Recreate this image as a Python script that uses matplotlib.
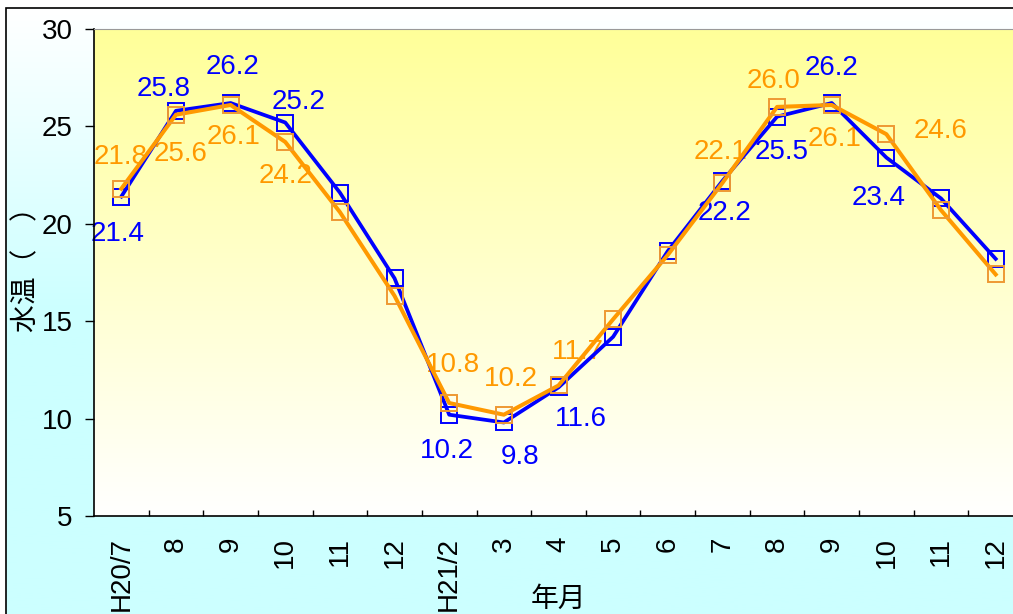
import numpy as np
import matplotlib.pyplot as plt
from matplotlib.colors import LinearSegmentedColormap
from matplotlib.patches import Rectangle

plt.rcParams['font.family'] = ['Liberation Sans', 'Noto Sans CJK JP']

months = ['H20/7', '8', '9', '10', '11', '12', 'H21/2', '3', '4', '5', '6',
          '7', '8', '9', '10', '11', '12']
blue_vals = [21.4, 25.8, 26.2, 25.2, 21.6, 17.2, 10.2, 9.8, 11.6, 14.2, 18.6,
             22.2, 25.5, 26.2, 23.4, 21.3, 18.2]
orange_vals = [21.8, 25.6, 26.1, 24.2, 20.6, 16.3, 10.8, 10.2, 11.7, 15.1, 18.4,
               22.1, 26.0, 26.1, 24.6, 20.7, 17.4]

# value labels: point index -> offset of the label (pixels)
blue_label_pos = {0: (-4, -37), 1: (-12, 22), 2: (2, 36), 3: (13, 21),
                  6: (-2, -36), 7: (16, -35), 8: (22, -32),
                  11: (2, -32), 12: (5, -35), 13: (0, 35), 14: (-8, -40)}
orange_label_pos = {0: (-1, 32), 1: (5, -39), 2: (3, -32), 3: (0, -34),
                    6: (4, 38), 7: (7, 36), 8: (19, 33),
                    11: (-2, 31), 12: (-4, 26), 13: (3, -34), 14: (54, 3)}

BLUE = '#0000FF'
ORANGE = '#FF9900'
FS = 20

W, H = 1013, 614
fig = plt.figure(figsize=(W / 100, H / 100), dpi=100)

# background of the chart box: white fading into pale cyan
bg = fig.add_axes([0, 0, 1, 1], zorder=-10)
bg.set_xlim(0, 1)
bg.set_ylim(0, 1)
bg.axis('off')
cyan = LinearSegmentedColormap.from_list('cy', ['#CCFFFF', '#CCFFFF', '#FFFFFF'])
grad = np.linspace(0, 1, 256).reshape(-1, 1)
bg.imshow(grad, cmap=cyan, origin='lower', aspect='auto',
          extent=(6 / W, 1, 0, 1 - 8 / H))
bg.add_patch(Rectangle((6 / W, -0.1), 1, 1.1 - 8 / H, fill=False,
                       edgecolor='black', linewidth=1.2))

ax = fig.add_axes([94 / W, 98 / H, 929 / W, 487 / H])
ax.set_xlim(-0.5, len(months) - 0.5)
ax.set_ylim(5, 30)
ax.patch.set_alpha(0)

yellow = LinearSegmentedColormap.from_list('ye', ['#FFFFFF', '#FFFF99'])
ax.imshow(grad, cmap=yellow, origin='lower', aspect='auto',
          extent=(-0.5, len(months) - 0.5, 5, 30), zorder=0)

x = np.arange(len(months))
ax.plot(x, blue_vals, color=BLUE, linewidth=2.7, marker='s', markersize=11.5,
        markerfacecolor='none', markeredgecolor=BLUE, markeredgewidth=1.4,
        zorder=3)
ax.plot(x, orange_vals, color=ORANGE, linewidth=2.9, marker='s', markersize=11.5,
        markerfacecolor='none', markeredgecolor='#EE9933', markeredgewidth=1.4,
        zorder=4)

for vals, pos, col in [(blue_vals, blue_label_pos, BLUE),
                       (orange_vals, orange_label_pos, ORANGE)]:
    for i, (dx, dy) in pos.items():
        ax.annotate(f'{vals[i]:.1f}', (x[i], vals[i]), xytext=(dx, dy),
                    textcoords='offset pixels', ha='center', va='center',
                    fontsize=FS, color=col, zorder=2)

ax.set_yticks(range(5, 31, 5))
ax.tick_params(axis='y', direction='out', length=6.5, width=1, pad=9,
               labelsize=FS)
ax.set_xticks(x)
ax.set_xticklabels(months, rotation=90, va='top')
ax.set_xticks(x[:-1] + 0.5, minor=True)
ax.tick_params(axis='x', which='major', length=0, pad=15, labelsize=FS)
ax.tick_params(axis='x', which='minor', direction='in', length=4.5, width=1)

ax.spines['top'].set_color('#999999')
ax.spines['right'].set_visible(False)
ax.spines['left'].set_linewidth(1.2)
ax.spines['bottom'].set_linewidth(1.2)

ax.set_ylabel('水温（　）', fontsize=20)
ax.yaxis.set_label_coords(-0.058, 0.52)
ax.set_xlabel('年月', fontsize=20, va='top')
ax.xaxis.set_label_coords(0.5, -0.145)

fig.savefig('out.png', dpi=100)
